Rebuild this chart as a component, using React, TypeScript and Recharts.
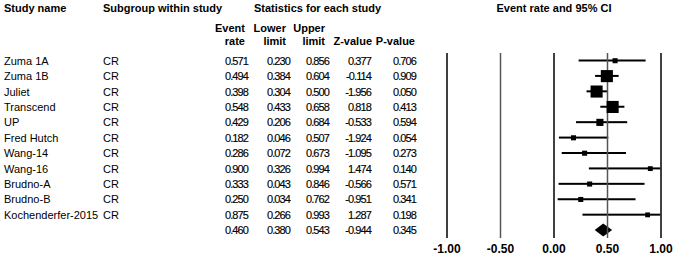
import React from "react";
import {
  ComposedChart,
  XAxis,
  YAxis,
  Bar,
  Line,
  ReferenceLine,
  Customized,
} from "recharts";

const studies = [
  "Zuma 1A",
  "Zuma 1B",
  "Juliet",
  "Transcend",
  "UP",
  "Fred Hutch",
  "Wang-14",
  "Wang-16",
  "Brudno-A",
  "Brudno-B",
  "Kochenderfer-2015",
];
const subgroups = ["CR", "CR", "CR", "CR", "CR", "CR", "CR", "CR", "CR", "CR", "CR"];
const eventRate = [0.571, 0.494, 0.398, 0.548, 0.429, 0.182, 0.286, 0.9, 0.333, 0.25, 0.875];
const lowerLimit = [0.23, 0.384, 0.304, 0.433, 0.206, 0.046, 0.072, 0.326, 0.043, 0.034, 0.266];
const upperLimit = [0.856, 0.604, 0.5, 0.658, 0.684, 0.507, 0.673, 0.994, 0.846, 0.762, 0.993];
const zValue = [0.377, -0.114, -1.956, 0.818, -0.533, -1.924, -1.095, 1.474, -0.566, -0.951, 1.287];
const pValue = [0.706, 0.909, 0.05, 0.413, 0.594, 0.054, 0.273, 0.14, 0.571, 0.341, 0.198];
// relative weights
const weights = [3.5, 20, 20, 20, 7, 3.5, 3.5, 3.2, 3.5, 3.5, 3.2];

const summaryRate = 0.46;
const summaryLower = 0.38;
const summaryUpper = 0.543;
const summaryZ = -0.944;
const summaryP = 0.345;

const xTicks = [-1, -0.5, 0, 0.5, 1];

type Row = {
  id: string;
  study: string;
  subgroup: string;
  rate: number;
  lower: number;
  upper: number;
  z: number;
  p: number;
  weight: number;
  ci: [number, number];
  summary: boolean;
};

const rows: Row[] = [
  ...studies.map((s, i) => ({
    id: "r" + i,
    study: s,
    subgroup: subgroups[i],
    rate: eventRate[i],
    lower: lowerLimit[i],
    upper: upperLimit[i],
    z: zValue[i],
    p: pValue[i],
    weight: weights[i],
    ci: [lowerLimit[i], upperLimit[i]] as [number, number],
    summary: false,
  })),
  {
    id: "summary",
    study: "",
    subgroup: "",
    rate: summaryRate,
    lower: summaryLower,
    upper: summaryUpper,
    z: summaryZ,
    p: summaryP,
    weight: 0,
    ci: [summaryLower, summaryUpper] as [number, number],
    summary: true,
  },
];

const FONT = "'Liberation Sans', Arial, Helvetica, sans-serif";
const NARROW = "'Liberation Sans Narrow', 'Arial Narrow', 'Liberation Sans', Arial, sans-serif";
const COL = { study: 4, sub: 103, rate: 247, lower: 289, upper: 328, z: 370, p: 415 };

const Num = ({ x, y, v }: { x: number; y: number; v: number }) => (
  <text
    x={x + 1}
    y={y}
    textAnchor="end"
    fontFamily={NARROW}
    fontSize={11}
    letterSpacing={-0.9}
    fill="#000"
    stroke="#000"
    strokeWidth={0.15}
  >
    {v.toFixed(3)}
  </text>
);

const renderRowTick = (props: any) => {
  const { y, payload } = props;
  const r = rows.find((d) => d.id === payload.value);
  if (!r) return <g />;
  const by = y + 4;
  return (
    <g key={r.id}>
      <text x={COL.study} y={by} fontFamily={FONT} fontSize={11} fill="#000">
        {r.study}
      </text>
      <text x={COL.sub} y={by} fontFamily={FONT} fontSize={11} fill="#000">
        {r.subgroup}
      </text>
      <Num x={COL.rate} y={by} v={r.rate} />
      <Num x={COL.lower} y={by} v={r.lower} />
      <Num x={COL.upper} y={by} v={r.upper} />
      <Num x={COL.z} y={by} v={r.z} />
      <Num x={COL.p} y={by} v={r.p} />
    </g>
  );
};

const renderXTick = (props: any) => {
  const { x, y, payload } = props;
  return (
    <text
      x={x}
      y={y + 7}
      textAnchor="middle"
      fontFamily={FONT}
      fontSize={12}
      fontWeight="bold"
      fill="#000"
    >
      {Number(payload.value).toFixed(2)}
    </text>
  );
};

const CiShape = (props: any) => {
  const { x, y, width, height, payload } = props;
  if (width == null || height == null) return null;
  const cy = y + height / 2;
  if (payload.summary) {
    const cx = x + (width * (payload.rate - payload.lower)) / (payload.upper - payload.lower);
    const pts = `${x},${cy} ${cx},${y} ${x + width},${cy} ${cx},${y + height}`;
    return <polygon points={pts} fill="#000" />;
  }
  return <rect x={x} y={cy - 1} width={width} height={2} fill="#000" />;
};

const SquareDot = (props: any) => {
  const { cx, cy, payload, index } = props;
  if (payload.summary || cx == null) return <g key={"d" + index} />;
  const s = Math.sqrt(payload.weight) * 2.7;
  return <rect key={"d" + index} x={cx - s / 2} y={cy - s / 2} width={s} height={s} fill="#000" />;
};

const Headers = () => (
  <g fontFamily={FONT} fontSize={11} fontWeight="bold" fill="#000">
    <text x={COL.study} y={12}>Study name</text>
    <text x={COL.sub} y={12}>Subgroup within study</text>
    <text x={254} y={12}>Statistics for each study</text>
    <text x={554} y={12} textAnchor="middle">Event rate and 95% CI</text>
    <text x={COL.rate - 2} y={32} textAnchor="end">Event</text>
    <text x={COL.rate - 2} y={45} textAnchor="end">rate</text>
    <text x={COL.lower - 3} y={32} textAnchor="end">Lower</text>
    <text x={COL.lower - 3} y={45} textAnchor="end">limit</text>
    <text x={COL.upper - 3} y={32} textAnchor="end">Upper</text>
    <text x={COL.upper - 3} y={45} textAnchor="end">limit</text>
    <text x={COL.z + 2} y={45} textAnchor="end">Z-value</text>
    <text x={COL.p} y={45} textAnchor="end">P-value</text>
  </g>
);

export default function App() {
  return (
    <div style={{ position: "absolute", left: 0, top: 0, width: 677, height: 260, background: "#fff" }}>
      <ComposedChart
        width={677}
        height={260}
        data={rows}
        layout="vertical"
        margin={{ top: 53, right: 16, bottom: 2, left: 437 }}
      >
        <XAxis
          type="number"
          domain={[-1, 1]}
          ticks={xTicks}
          axisLine={false}
          tickLine={false}
          tick={renderXTick}
          height={20}
          allowDataOverflow
        />
        <YAxis
          type="category"
          dataKey="id"
          width={10}
          axisLine={false}
          tickLine={false}
          interval={0}
          tick={renderRowTick}
        />
        {xTicks.map((t) => (
          <ReferenceLine
            key={t}
            x={t}
            stroke={t === -0.5 || t === 0.5 ? "#555" : "#000"}
            strokeWidth={1.5}
          />
        ))}
        <Bar dataKey="ci" barSize={13} shape={<CiShape />} isAnimationActive={false} />
        <Line
          dataKey="rate"
          stroke="none"
          strokeWidth={0}
          dot={(p: any) => <SquareDot {...p} />}
          activeDot={false}
          isAnimationActive={false}
        />
        <Customized component={Headers} />
      </ComposedChart>
    </div>
  );
}
